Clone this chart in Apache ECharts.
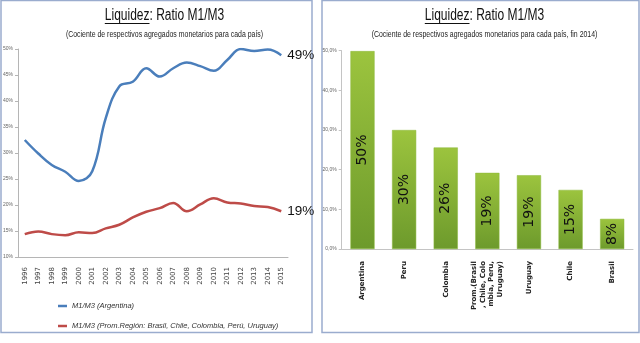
<!DOCTYPE html>
<html>
<head>
<meta charset="utf-8">
<script src="https://cdn.jsdelivr.net/npm/echarts@6/dist/echarts.min.js"></script>
<style>
  html, body { margin: 0; padding: 0; background: #fff; }
  #chart { width: 640px; height: 343px; }
</style>
</head>
<body>
<div id="chart"></div>
<script>
// Years on the left panel
const years = ['1996','1997','1998','1999','2000','2001','2002','2003','2004','2005',
               '2006','2007','2008','2009','2010','2011','2012','2013','2014','2015'];

// M1/M3 ratio (%) for Argentina
const argentina = [32.5, 29.9, 27.7, 26.4, 24.6, 26.5, 36.7, 42.8, 43.7, 46.3,
                   44.7, 46.3, 47.4, 46.7, 45.8, 47.9, 50.0, 49.6, 49.9, 48.8];

// M1/M3 ratio (%) regional average: Brasil, Chile, Colombia, Perú, Uruguay
const region = [14.4, 14.9, 14.4, 14.2, 14.75, 14.6, 15.5, 16.2, 17.6, 18.7,
                19.4, 20.4, 18.8, 20.1, 21.3, 20.5, 20.3, 19.8, 19.6, 18.8];

// Right panel: end of 2014, per country
const countries = ['Argentina', 'Peru', 'Colombia',
                   'Prom.(Brasil\n, Chile, Colo\nmbia, Peru,\nUruguay)',
                   'Uruguay', 'Chile', 'Brasil'];
const ratio2014 = [49.9, 30.0, 25.6, 19.2, 18.6, 14.9, 7.6];

const seriesNames = ['M1/M3 (Argentina)',
                     'M1/M3 (Prom.Región: Brasil, Chile, Colombia, Perú, Uruguay)'];

const titleText = 'Liquidez: Ratio M1/M3';
const underlined = 'Liquidez';
const subLeft = '(Cociente de respectivos agregados monetarios para cada país)';
const subRight = '(Cociente de respectivos agregados monetarios para cada país, fin 2014)';

const sans = '"Liberation Sans", Arial, sans-serif';
const titleFont = '16px ' + sans;
const subFont = '9px ' + sans;
const titleScale = 0.75;
const subScale = 0.77;

// measure text widths to place the underline below the first word
const ctx = document.createElement('canvas').getContext('2d');
function textWidth(str, font) { ctx.font = font; return ctx.measureText(str).width; }

// Condensed heading (title + subtitle + underline) centred on cx
function heading(cx, sub) {
  const full = textWidth(titleText, titleFont) * titleScale;
  const word = textWidth(underlined, titleFont) * titleScale;
  const x0 = cx - full / 2;
  return [
    { type: 'text', x: cx, y: 16, scaleX: titleScale, silent: true,
      style: { text: titleText, font: titleFont, fill: '#111',
               textAlign: 'center', textVerticalAlign: 'middle' } },
    { type: 'line', silent: true,
      shape: { x1: x0, y1: 23.5, x2: x0 + word, y2: 23.5 },
      style: { stroke: '#111', lineWidth: 1 } },
    { type: 'text', x: cx, y: 35, scaleX: subScale, silent: true,
      style: { text: sub, font: subFont, fill: '#222',
               textAlign: 'center', textVerticalAlign: 'middle' } }
  ];
}

const chart = echarts.init(document.getElementById('chart'));

chart.setOption({
  animation: false,
  backgroundColor: '#fff',
  graphic: [
    { type: 'rect', shape: { x: 1, y: 0.5, width: 311, height: 332 }, silent: true,
      style: { fill: 'none', stroke: '#9aacce', lineWidth: 1.5 } },
    { type: 'rect', shape: { x: 322, y: 0.5, width: 317, height: 332 }, silent: true,
      style: { fill: 'none', stroke: '#9aacce', lineWidth: 1.5 } }
  ].concat(heading(164.5, subLeft), heading(484.5, subRight)),
  legend: {
    data: seriesNames,
    orient: 'vertical', left: 53, top: 297, itemGap: 12,
    icon: 'rect', itemWidth: 9, itemHeight: 2.5,
    textStyle: { fontFamily: sans, fontSize: 7.5, fontStyle: 'italic', color: '#333' }
  },
  grid: [
    { left: 16.7, right: 352, top: 49, bottom: 86 },
    { left: 341.7, right: 7, top: 50.7, bottom: 94 }
  ],
  xAxis: [
    { type: 'category', gridIndex: 0, data: years, boundaryGap: true,
      axisLine: { lineStyle: { color: '#b5b5b5' } },
      axisTick: { length: 4, lineStyle: { color: '#b5b5b5' } },
      axisLabel: { rotate: 90, margin: 10, fontSize: 7, color: '#444',
                   fontFamily: '"DejaVu Sans", sans-serif', interval: 0 } },
    { type: 'category', gridIndex: 1, data: countries, boundaryGap: true,
      axisLine: { lineStyle: { color: '#c4c4c4' } },
      axisTick: { length: 4, lineStyle: { color: '#c4c4c4' } },
      axisLabel: { rotate: 90, margin: 12, fontSize: 7, fontWeight: 'bold', color: '#222',
                   lineHeight: 8.5, fontFamily: '"DejaVu Sans", sans-serif', interval: 0 } }
  ],
  yAxis: [
    { type: 'value', gridIndex: 0, min: 10, max: 50, interval: 5,
      axisLine: { show: true, lineStyle: { color: '#b5b5b5' } },
      axisTick: { show: true, length: 3, lineStyle: { color: '#b5b5b5' } },
      splitLine: { show: false },
      axisLabel: { formatter: '{value}%', fontSize: 5, color: '#666', margin: 5 } },
    { type: 'value', gridIndex: 1, min: 0, max: 50, interval: 10,
      axisLine: { show: true, lineStyle: { color: '#c4c4c4' } },
      axisTick: { show: true, length: 3, lineStyle: { color: '#c4c4c4' } },
      splitLine: { show: false },
      axisLabel: { formatter: v => v.toFixed(1).replace('.', ',') + '%',
                   fontSize: 5, color: '#666', margin: 5 } }
  ],
  series: [
    { name: seriesNames[0], type: 'line', xAxisIndex: 0, yAxisIndex: 0, data: argentina,
      smooth: 0.4, showSymbol: false, color: '#4a7ebb',
      lineStyle: { width: 2.5, color: '#4a7ebb' },
      endLabel: { show: true, formatter: p => Math.round(p.value) + '%', distance: 6,
                  fontFamily: sans, fontSize: 13.5, color: '#111' } },
    { name: seriesNames[1], type: 'line', xAxisIndex: 0, yAxisIndex: 0, data: region,
      smooth: 0.4, showSymbol: false, color: '#be4b48',
      lineStyle: { width: 2.5, color: '#be4b48' },
      endLabel: { show: true, formatter: p => Math.round(p.value) + '%', distance: 6,
                  fontFamily: sans, fontSize: 13.5, color: '#111' } },
    { name: 'fin 2014', type: 'bar', xAxisIndex: 1, yAxisIndex: 1, data: ratio2014,
      barWidth: '58%',
      itemStyle: {
        color: new echarts.graphic.LinearGradient(0, 0, 0, 1, [
          { offset: 0, color: '#9cc43e' },
          { offset: 1, color: '#6d9a2c' }
        ]),
        borderColor: '#8ab83a', borderWidth: 0.5
      },
      label: { show: true, position: 'inside', rotate: 90,
               formatter: p => Math.round(p.value) + '%',
               fontFamily: '"DejaVu Sans", sans-serif', fontSize: 14, color: '#111' } }
  ]
});
</script>
</body>
</html>
